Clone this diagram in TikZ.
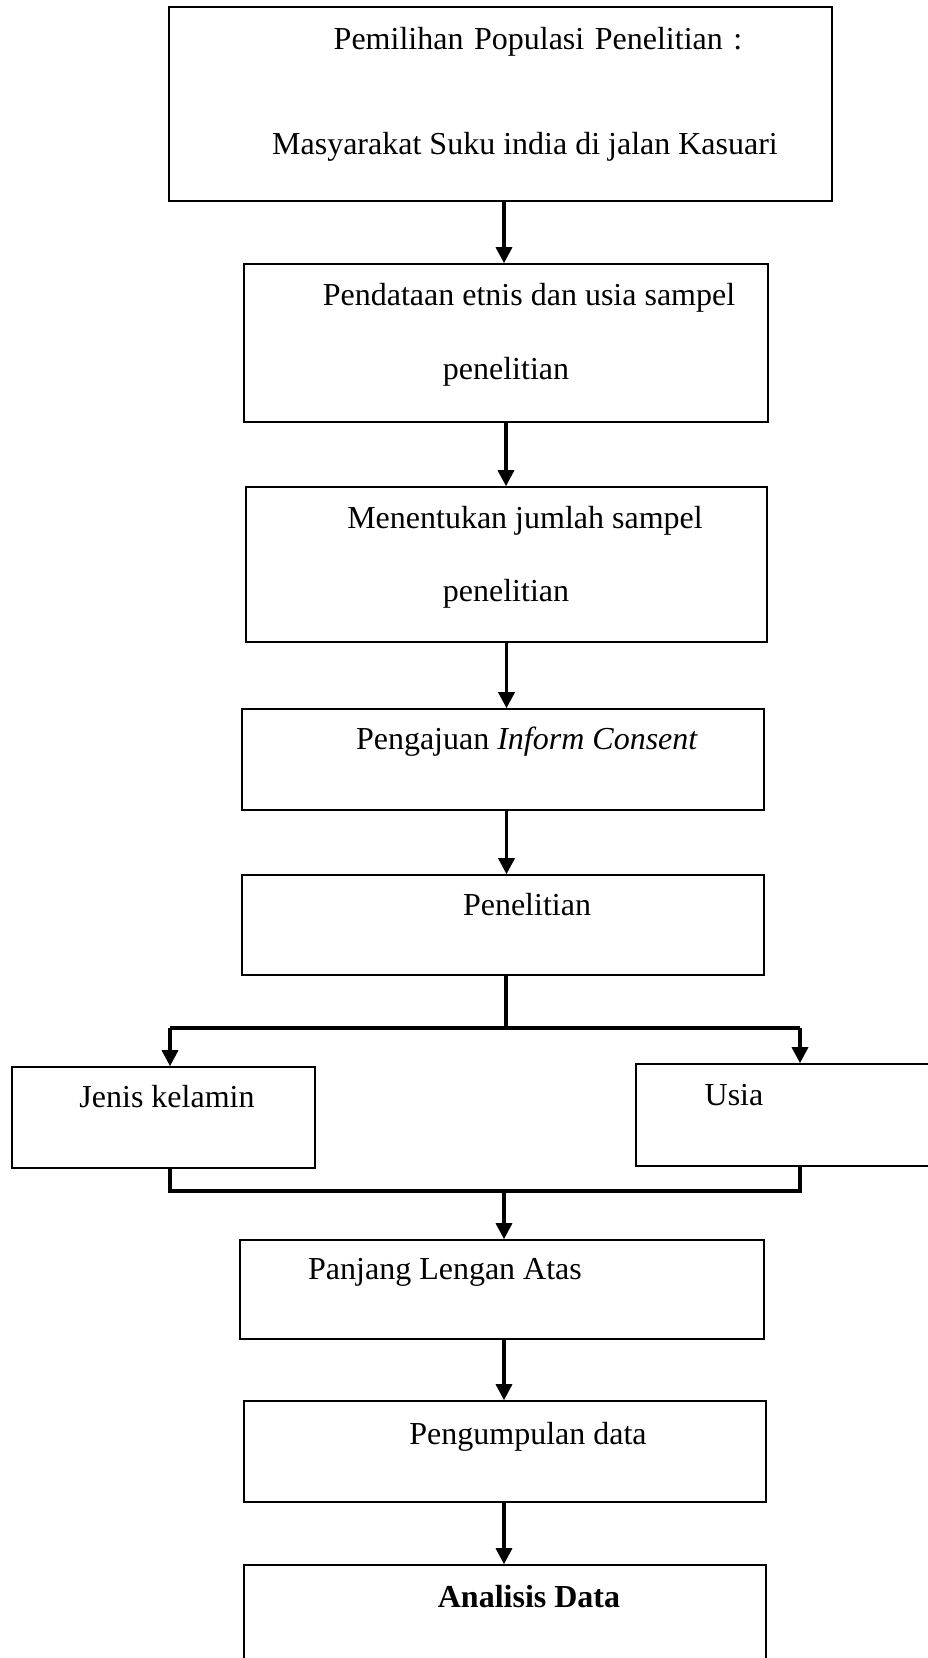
\documentclass[tikz,border=0pt]{standalone}
\usepackage{fontspec}
\setmainfont{Liberation Serif}
\usetikzlibrary{arrows.meta,fit}

\begin{document}
\begin{tikzpicture}[x=0.375pt,y=-0.375pt,
  box/.style={draw,line width=0.6pt,inner sep=0pt},
  txt/.style={font=\fontsize{12}{14}\selectfont,inner sep=0pt,anchor=base},
  flow/.style={-{Triangle[length=6pt,width=6pt]},line width=1.25pt},
  bar/.style={line width=1.4pt}]
  \useasboundingbox (0,0) rectangle (928,1658);
  \clip (0,0) rectangle (928,1658);

  % the boxes
  \node[box,fit={(169,7)(832,201)}]    (pop) {};
  \node[box,fit={(244,264)(768,422)}]  (data) {};
  \node[box,fit={(246,487)(767,642)}]  (jumlah) {};
  \node[box,fit={(242,709)(764,810)}]  (inform) {};
  \node[box,fit={(242,875)(764,975)}]  (teliti) {};
  \node[box,fit={(12,1067)(315,1168)}] (kelamin) {};
  \node[box,fit={(636,1064)(960,1166)}] (usia) {};
  \node[box,fit={(240,1240)(764,1339)}] (lengan) {};
  \node[box,fit={(244,1401)(766,1502)}] (kumpul) {};
  \node[box,fit={(244,1565)(766,1720)}] (analisis) {};

  % the texts
  \node[txt] (pop-a)  at (538,49)  {\spaceskip=0.33em Pemilihan Populasi Penelitian :};
  \node[txt] (pop-b)  at (525,154) {Masyarakat Suku india di jalan Kasuari};
  \node[txt] (data-a) at (529,305) {Pendataan etnis dan usia sampel};
  \node[txt] (data-b) at (506,379) {penelitian};
  \node[txt] (jumlah-a) at (525,528) {Menentukan jumlah sampel};
  \node[txt] (jumlah-b) at (506,601) {penelitian};
  \node[txt] (inform-a) at (527,749) {Pengajuan \textit{Inform Consent}};
  \node[txt] (teliti-a) at (527,915) {Penelitian};
  \node[txt] (kelamin-a) at (167,1107) {Jenis kelamin};
  \node[txt] (usia-a) at (734,1105) {Usia};
  \node[txt] (lengan-a) at (445,1279) {Panjang Lengan Atas};
  \node[txt] (kumpul-a) at (528,1444) {Pengumpulan data};
  \node[txt,font=\fontsize{12}{14}\selectfont\bfseries] (analisis-a) at (529,1607) {Analisis Data};

  % straight arrows
  \coordinate (top) at (504,0);
  \draw[flow] (pop.south -| top) -- (top |- data.north);
  \draw[flow] (data.south) -- (data.south |- jumlah.north);
  \draw[flow] (jumlah.south) -- (jumlah.south |- inform.north);
  \draw[flow] (inform.south -| jumlah.south) -- (jumlah.south |- teliti.north);

  % split and merge
  \coordinate (split) at (506,1028);
  \coordinate (kin) at (170,1028);
  \coordinate (uin) at (800,1028);
  \coordinate (kout) at (170,1191);
  \coordinate (uout) at (800,1191);
  \coordinate (merge) at (504,1191);
  \draw[bar] (teliti.south -| split) -- (split);
  \draw[bar] (kin) -- (uin);
  \draw[flow] (kin) -- (kin |- kelamin.north);
  \draw[flow] (uin) -- (uin |- usia.north);
  \draw[bar] (kin |- kelamin.south) -- (kout) -- (uout) -- (uin |- usia.south);
  \draw[flow] (merge) -- (merge |- lengan.north);

  \draw[flow] (lengan.south -| merge) -- (merge |- kumpul.north);
  \draw[flow] (kumpul.south -| merge) -- (merge |- analisis.north);
\end{tikzpicture}
\end{document}
